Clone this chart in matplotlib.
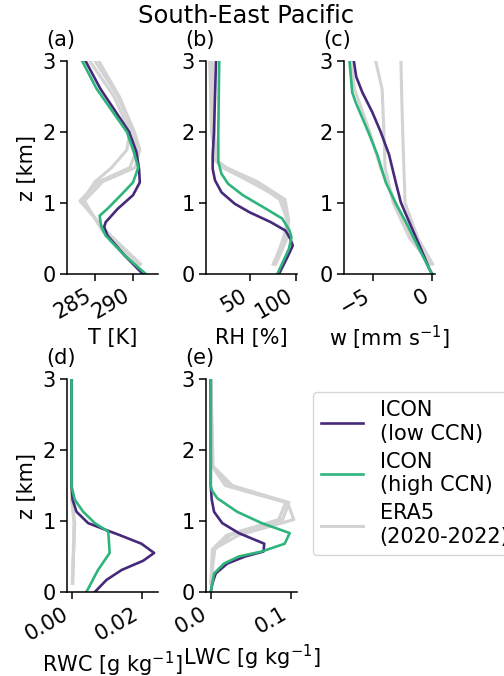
import numpy as np
import matplotlib
matplotlib.use("Agg")
import matplotlib.pyplot as plt

# colours
c_low = '#46297a'
c_high = '#2fb47c'
c_era = '#d3d3d3'

# ---- (a) temperature [K] ----
z_t_low = [3.0, 2.61, 2.0, 1.72, 1.48, 1.29, 1.11, 0.92, 0.73, 0.66, 0.54, 0.26, 0.0]
t_low = [283.75, 285.7, 289.5, 290.45, 290.8, 290.9, 290.0, 288.0, 286.4, 286.2, 286.65, 288.9, 291.3]
z_t_high = [3.0, 2.61, 2.0, 1.72, 1.5, 1.29, 1.11, 0.92, 0.82, 0.68, 0.54, 0.26, 0.0]
t_high = [283.3, 285.2, 289.2, 290.1, 290.7, 290.0, 288.4, 286.65, 285.6, 285.8, 286.4, 288.9, 291.7]
z_t_era = [3.0, 2.5, 2.0, 1.75, 1.5, 1.3, 1.03, 0.6, 0.14]
t_era = [
    [284.3, 287.5, 289.6, 289.2, 287.2, 285.0, 283.3, 286.3, 290.8],
    [285.5, 288.2, 290.2, 290.9, 290.3, 286.0, 283.6, 286.0, 290.6],
    [285.0, 288.0, 290.0, 290.5, 289.6, 285.5, 283.0, 286.5, 291.0],
]

# ---- (b) relative humidity [%] ----
z_rh_low = [3.0, 2.0, 1.67, 1.48, 1.32, 1.15, 0.99, 0.87, 0.73, 0.61, 0.49, 0.4, 0.26, 0.0]
rh_low = [12.9, 10.7, 9.3, 9.3, 11.8, 18.9, 33.2, 49.3, 72.5, 88.6, 93.9, 96.4, 91.4, 81.4]
z_rh_high = [3.0, 2.0, 1.58, 1.41, 1.27, 1.11, 0.92, 0.78, 0.61, 0.52, 0.35, 0.0]
rh_high = [16.4, 15.4, 15.4, 18.9, 26.1, 42.1, 67.1, 85.0, 92.9, 95.0, 92.1, 79.6]
z_rh_era = [3.0, 2.0, 1.6, 1.5, 1.3, 1.05, 0.75, 0.5, 0.14]
rh_era = [
    [7, 9, 12, 20, 50, 85, 90, 88, 75],
    [9, 11, 14, 24, 58, 88, 92, 90, 78],
    [6, 8, 13, 22, 55, 82, 91, 86, 76],
]

# ---- (c) vertical velocity [mm s-1] ----
z_w_low = [3.0, 2.78, 2.56, 2.28, 2.0, 1.68, 1.29, 1.01, 0.73, 0.35, 0.07, 0.0]
w_low = [-6.66, -6.46, -5.94, -5.09, -4.37, -3.66, -3.09, -2.66, -1.94, -0.94, -0.23, 0.0]
z_w_high = [3.0, 2.56, 2.42, 2.0, 1.68, 1.29, 1.01, 0.73, 0.35, 0.07, 0.0]
w_high = [-7.03, -6.8, -6.51, -5.43, -4.66, -3.94, -3.14, -2.23, -1.09, -0.23, 0.0]
z_w_era = [3.0, 2.6, 2.0, 1.5, 1.0, 0.5, 0.14]
w_era = [
    [-4.8, -4.25, -4.1, -4.0, -3.3, -1.9, -0.1],
    [-2.65, -2.6, -2.5, -2.4, -2.3, -1.2, 0.05],
    [-6.9, -6.6, -5.3, -4.4, -3.1, -1.7, -0.15],
]

# ---- (d) rain water content [g kg-1] ----
z_rwc_low = [3.0, 1.49, 1.3, 1.13, 0.97, 0.88, 0.8, 0.68, 0.55, 0.44, 0.31, 0.17, 0.0]
rwc_low = [0.0, 0.0, 0.0003, 0.0014, 0.0047, 0.0094, 0.0137, 0.0198, 0.0234, 0.0203, 0.0142, 0.0099, 0.0066]
z_rwc_high = [3.0, 1.49, 1.3, 1.13, 0.97, 0.85, 0.55, 0.31, 0.0]
rwc_high = [0.0, 0.0, 0.0009, 0.0033, 0.0066, 0.0104, 0.0108, 0.0075, 0.0042]
z_rwc_era = [3.0, 1.35, 0.97, 0.6, 0.12]
rwc_era = [
    [0.0, 0.0, 0.0009, 0.0006, 0.0003],
    [0.0, 0.0, 0.0007, 0.0005, 0.0002],
    [0.0, 0.0, 0.0008, 0.0006, 0.0003],
]

# ---- (e) liquid water content [g kg-1] ----
z_lwc_low = [3.0, 1.49, 1.3, 1.13, 0.97, 0.83, 0.68, 0.57, 0.5, 0.4, 0.26, 0.12, 0.0]
lwc_low = [0.0, 0.0, 0.0012, 0.0041, 0.0144, 0.035, 0.067, 0.066, 0.043, 0.0206, 0.0062, 0.002, 0.0]
z_lwc_high = [3.0, 1.49, 1.42, 1.32, 1.13, 0.97, 0.83, 0.68, 0.57, 0.5, 0.4, 0.26, 0.0]
lwc_high = [0.0, 0.0, 0.002, 0.0082, 0.033, 0.0638, 0.0988, 0.0926, 0.0638, 0.035, 0.0165, 0.0041, 0.0]
z_lwc_era = [3.0, 1.77, 1.5, 1.26, 1.02, 0.8, 0.6, 0.12]
lwc_era = [
    [0.0, 0.002, 0.023, 0.098, 0.09, 0.025, 0.005, 0.0],
    [0.0, 0.003, 0.027, 0.096, 0.104, 0.035, 0.003, 0.0],
    [0.0, 0.002, 0.018, 0.094, 0.085, 0.02, 0.002, 0.0],
]

panels = [
    ('(a)', 'T [K]', (z_t_low, t_low), (z_t_high, t_high), (z_t_era, t_era), [285, 290], (281.3, 293.3), None),
    ('(b)', 'RH [%]', (z_rh_low, rh_low), (z_rh_high, rh_high), (z_rh_era, rh_era), [50, 100], (2, 101), None),
    ('(c)', 'w [mm s$^{-1}$]', (z_w_low, w_low), (z_w_high, w_high), (z_w_era, w_era), [-5, 0], (-7.5, 0.25), None),
    ('(d)', 'RWC [g kg$^{-1}$]', (z_rwc_low, rwc_low), (z_rwc_high, rwc_high), (z_rwc_era, rwc_era), [0.0, 0.02], (-0.0013, 0.0245), '%.2f'),
    ('(e)', 'LWC [g kg$^{-1}$]', (z_lwc_low, lwc_low), (z_lwc_high, lwc_high), (z_lwc_era, lwc_era), [0.0, 0.1], (-0.006, 0.108), '%.1f'),
]

plt.rcParams['font.family'] = 'DejaVu Sans'
plt.rcParams['font.size'] = 15
plt.rcParams['axes.linewidth'] = 1.1
plt.rcParams['xtick.major.size'] = 4.8
plt.rcParams['ytick.major.size'] = 4.8
plt.rcParams['xtick.major.width'] = 1.1
plt.rcParams['ytick.major.width'] = 1.1

fig = plt.figure(figsize=(5.04, 6.76), dpi=100)

lefts = [0.1329, 0.4087, 0.6825, 0.1329, 0.4087]
bottoms = [0.5947, 0.5947, 0.5947, 0.1243, 0.1243]
w_ax = 0.1806
h_ax = 0.315

lw = 1.9
for i, (lab, xlab, low, high, era, xt, xl, fmt) in enumerate(panels):
    ax = fig.add_axes([lefts[i], bottoms[i], w_ax, h_ax])
    for k, xs in enumerate(era[1]):
        ax.plot(xs, era[0], color=c_era, lw=lw + 0.3,
                label='ERA5\n(2020-2022)' if k == 0 else None)
    ax.plot(low[1], low[0], color=c_low, lw=lw, label='ICON\n(low CCN)')
    ax.plot(high[1], high[0], color=c_high, lw=lw, label='ICON\n(high CCN)')
    ax.set_ylim(0, 3)
    ax.set_yticks([0, 1, 2, 3])
    ax.set_xlim(*xl)
    ax.set_xticks(xt)
    if fmt:
        ax.xaxis.set_major_formatter(matplotlib.ticker.FormatStrFormatter(fmt))
    plt.setp(ax.get_xticklabels(), rotation=30, ha='right')
    ax.set_xlabel(xlab)
    if i in (0, 3):
        ax.set_ylabel('z [km]')
    ax.spines['top'].set_visible(False)
    ax.spines['right'].set_visible(False)
    ax.text(-0.23, 1.1, lab, transform=ax.transAxes, ha='left', va='center', fontsize=15)
    if i == 0:
        handles, labels = ax.get_legend_handles_labels()

order = [1, 2, 0]
fig.legend([handles[j] for j in order], [labels[j] for j in order],
           loc='upper left', bbox_to_anchor=(0.621, 0.42), borderaxespad=0,
           fontsize=15, handlelength=2.0, labelspacing=0.4)

fig.text(0.488, 0.976, 'South-East Pacific', ha='center', va='center', fontsize=17.5)

fig.savefig('out.png', dpi=100)
